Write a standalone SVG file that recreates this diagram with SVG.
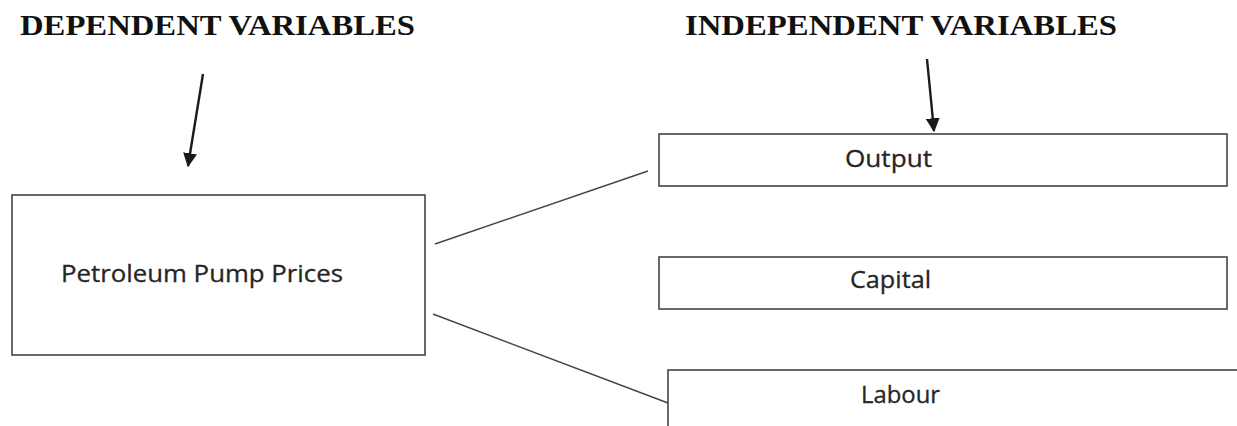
<svg xmlns="http://www.w3.org/2000/svg" width="1237" height="426" viewBox="0 0 1237 426">
<style>
.title{font-family:"Liberation Serif","Times New Roman",serif;font-weight:bold;font-size:30px;fill:#111}
.lbl{font-family:"Open Sans","Liberation Sans",sans-serif;font-size:23px;fill:#262626;stroke:#262626;stroke-width:0.3}
.box{fill:#fff;stroke:#444;stroke-width:1.6}
.con{stroke:#444;stroke-width:1.4;fill:none}
.arr{stroke:#1a1a1a;stroke-width:2.4;fill:none;marker-end:url(#ah)}
</style>
<defs>
<marker id="ah" viewBox="0 0 12 12" refX="11" refY="6" markerWidth="14" markerHeight="14" orient="auto" markerUnits="userSpaceOnUse">
<path d="M0,0 L12,6 L0,12 z" fill="#1a1a1a"/>
</marker>
</defs>
<rect width="1237" height="426" fill="#fff"/>
<text class="title" x="20" y="35" textLength="395" lengthAdjust="spacingAndGlyphs">DEPENDENT VARIABLES</text>
<text class="title" x="685" y="35" textLength="432" lengthAdjust="spacingAndGlyphs">INDEPENDENT VARIABLES</text>
<g id="connectors">
<line class="arr" x1="203" y1="74" x2="188" y2="166"/>
<line class="arr" x1="927" y1="59" x2="934" y2="131"/>
<line class="con" x1="435" y1="244" x2="648" y2="171"/>
<line class="con" x1="433" y1="314" x2="668" y2="403"/>
</g>
<g id="dependent">
<rect class="box" x="12" y="195" width="413" height="160"/>
<text class="lbl" x="61" y="282" textLength="282" lengthAdjust="spacingAndGlyphs">Petroleum Pump Prices</text>
</g>
<g id="output">
<rect class="box" x="659" y="134" width="568" height="52"/>
<text class="lbl" x="845" y="167" textLength="87" lengthAdjust="spacingAndGlyphs">Output</text>
</g>
<g id="capital">
<rect class="box" x="659" y="257" width="568" height="52"/>
<text class="lbl" x="850" y="288" textLength="81" lengthAdjust="spacingAndGlyphs">Capital</text>
</g>
<g id="labour">
<rect class="box" x="668" y="370" width="580" height="70"/>
<text class="lbl" x="861" y="403" textLength="79" lengthAdjust="spacingAndGlyphs">Labour</text>
</g>
</svg>
